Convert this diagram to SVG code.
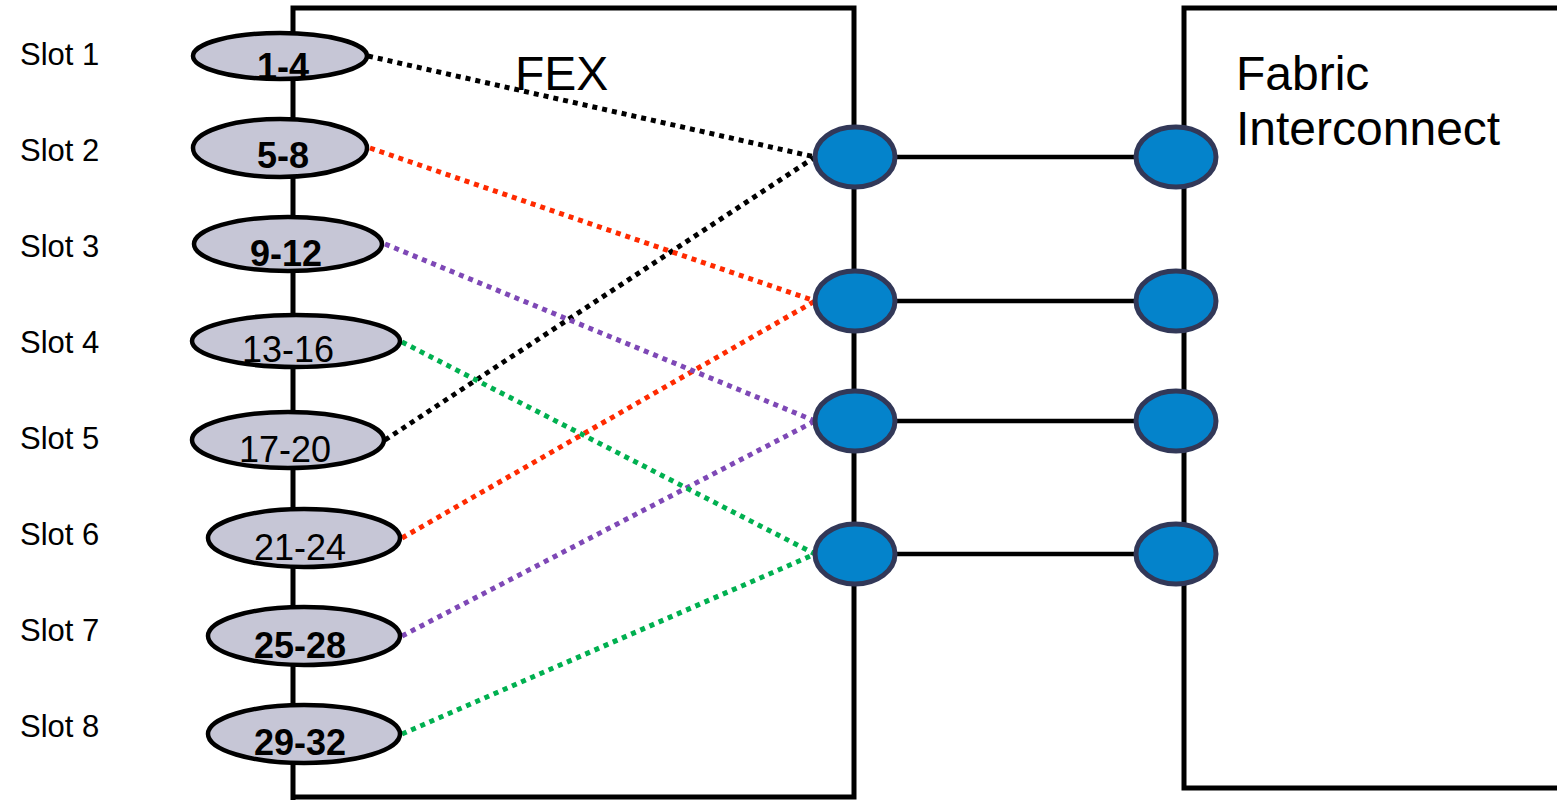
<svg xmlns="http://www.w3.org/2000/svg" width="1557" height="800" viewBox="0 0 1557 800">
  <style>
    .box { fill: none; stroke: #000; stroke-width: 5; }
    .slot { fill: #C6C6D6; stroke: #000; stroke-width: 4.5; }
    .port { fill: #0483CB; stroke: #323858; stroke-width: 5; }
    .link { stroke: #000; stroke-width: 4.5; fill: none; }
    .dot { stroke-width: 5; stroke-dasharray: 5 5; fill: none; }
    .lbl { font-family: "Liberation Sans", Arial, sans-serif; font-size: 31px; fill: #000; }
    .num { font-family: "Liberation Sans", Arial, sans-serif; font-size: 36px; fill: #000; text-anchor: middle; }
    .b { font-weight: bold; }
    .title { font-family: "Liberation Sans", Arial, sans-serif; font-size: 48px; fill: #000; }
  </style>

  <rect width="1557" height="800" fill="#fff"/>

  <!-- FEX chassis -->
  <g id="fex">
    <path class="box" d="M293,800 V8 H854 V797 H293"/>
    <text class="title" x="515" y="90">FEX</text>
  </g>

  <!-- Fabric Interconnect chassis -->
  <g id="fabric-interconnect">
    <path class="box" d="M1560,8 H1184 V788 H1560"/>
    <text class="title" x="1236" y="90">Fabric</text>
    <text class="title" x="1236" y="145">Interconnect</text>
  </g>

  <!-- Dotted slot-to-uplink pinning -->
  <g id="connectors">
    <line class="dot" stroke="#000" x1="368" y1="56" x2="815" y2="157"/>
    <line class="dot" stroke="#000" x1="385" y1="440" x2="815" y2="157"/>
    <line class="dot" stroke="#FF2A00" x1="370" y1="148" x2="815" y2="301"/>
    <line class="dot" stroke="#FF2A00" x1="402" y1="538" x2="815" y2="301"/>
    <line class="dot" stroke="#7E48B6" x1="385" y1="244" x2="815" y2="421"/>
    <line class="dot" stroke="#7E48B6" x1="402" y1="636" x2="815" y2="421"/>
    <line class="dot" stroke="#00B050" x1="402" y1="342" x2="815" y2="554"/>
    <line class="dot" stroke="#00B050" x1="402" y1="734" x2="815" y2="554"/>
    <!-- fabric links -->
    <line class="link" x1="895" y1="157" x2="1136" y2="157"/>
    <line class="link" x1="895" y1="301" x2="1136" y2="301"/>
    <line class="link" x1="895" y1="421" x2="1136" y2="421"/>
    <line class="link" x1="895" y1="554" x2="1136" y2="554"/>
  </g>

  <!-- Slot labels -->
  <g id="slot-labels">
    <text class="lbl" x="20" y="65">Slot 1</text>
    <text class="lbl" x="20" y="161">Slot 2</text>
    <text class="lbl" x="20" y="257">Slot 3</text>
    <text class="lbl" x="20" y="353">Slot 4</text>
    <text class="lbl" x="20" y="449">Slot 5</text>
    <text class="lbl" x="20" y="545">Slot 6</text>
    <text class="lbl" x="20" y="641">Slot 7</text>
    <text class="lbl" x="20" y="737">Slot 8</text>
  </g>

  <!-- Host interface groups -->
  <g id="slot1"><ellipse class="slot" cx="280" cy="56" rx="87" ry="23"/><text class="num b" x="283" y="79">1-4</text></g>
  <g id="slot2"><ellipse class="slot" cx="280" cy="148" rx="87" ry="29"/><text class="num b" x="283" y="168">5-8</text></g>
  <g id="slot3"><ellipse class="slot" cx="288" cy="244" rx="94" ry="27"/><text class="num b" x="286" y="266">9-12</text></g>
  <g id="slot4"><ellipse class="slot" cx="296" cy="341" rx="104" ry="26"/><text class="num" x="288" y="362">13-16</text></g>
  <g id="slot5"><ellipse class="slot" cx="288" cy="440" rx="96" ry="28"/><text class="num" x="285" y="462">17-20</text></g>
  <g id="slot6"><ellipse class="slot" cx="304" cy="538" rx="96" ry="29"/><text class="num" x="300" y="560">21-24</text></g>
  <g id="slot7"><ellipse class="slot" cx="304" cy="636" rx="96" ry="29"/><text class="num b" x="300" y="658">25-28</text></g>
  <g id="slot8"><ellipse class="slot" cx="304" cy="734" rx="96" ry="29"/><text class="num b" x="300" y="755">29-32</text></g>

  <!-- FEX uplink ports -->
  <g id="fex-port1"><ellipse class="port" cx="855" cy="157" rx="40" ry="30"/></g>
  <g id="fex-port2"><ellipse class="port" cx="855" cy="301" rx="40" ry="30"/></g>
  <g id="fex-port3"><ellipse class="port" cx="855" cy="421" rx="40" ry="30"/></g>
  <g id="fex-port4"><ellipse class="port" cx="855" cy="554" rx="40" ry="30"/></g>

  <!-- Fabric Interconnect server ports -->
  <g id="fi-port1"><ellipse class="port" cx="1176" cy="157" rx="40" ry="30"/></g>
  <g id="fi-port2"><ellipse class="port" cx="1176" cy="301" rx="40" ry="30"/></g>
  <g id="fi-port3"><ellipse class="port" cx="1176" cy="421" rx="40" ry="30"/></g>
  <g id="fi-port4"><ellipse class="port" cx="1176" cy="554" rx="40" ry="30"/></g>
</svg>
